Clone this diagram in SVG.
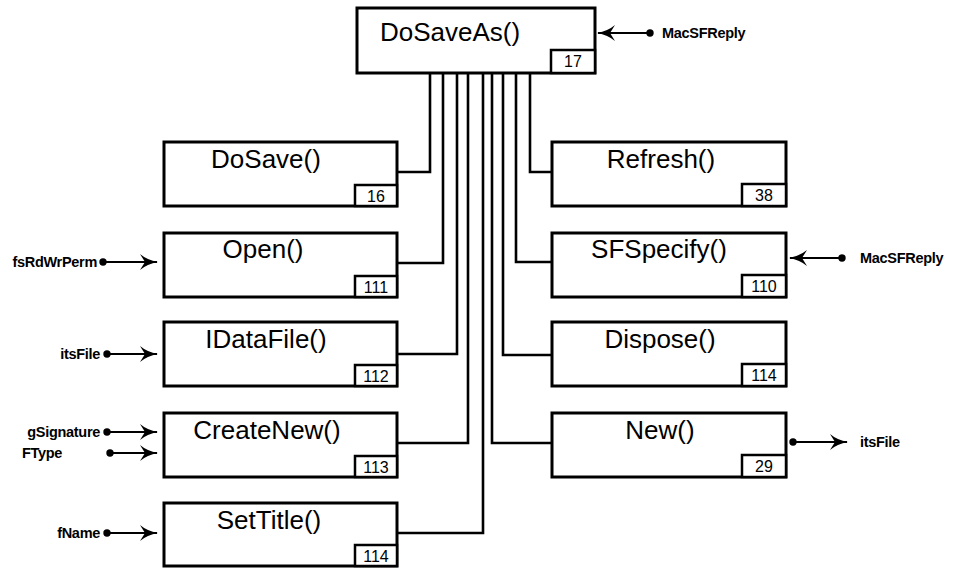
<svg xmlns="http://www.w3.org/2000/svg" width="953" height="569" viewBox="0 0 953 569">
  <defs>
    <marker id="head" viewBox="0 0 18 16" refX="17" refY="8" markerWidth="18" markerHeight="16" markerUnits="userSpaceOnUse" orient="auto">
      <path d="M0,0 Q7,6 18,8 Q7,10 0,16 L5,8 Z" fill="#000"/>
    </marker>
    <marker id="dot" viewBox="0 0 8 8" refX="4" refY="4" markerWidth="8" markerHeight="8" markerUnits="userSpaceOnUse">
      <circle cx="4" cy="4" r="3.7" fill="#000"/>
    </marker>
  </defs>
  <style>
    .box { fill: #fff; stroke: #000; stroke-width: 3; }
    .num { fill: #fff; stroke: #000; stroke-width: 2.5; }
    .title { font-family: "Liberation Sans", Arial, sans-serif; font-size: 26px; text-anchor: middle; fill: #000; }
    .ntext { font-family: "Liberation Sans", Arial, sans-serif; font-size: 16px; text-anchor: middle; fill: #000; }
    .lbl { font-family: "Liberation Sans", Arial, sans-serif; font-size: 14.5px; font-weight: bold; fill: #000; letter-spacing: -0.3px; }
    .wire { fill: none; stroke: #000; stroke-width: 2.6; }
    .arg { fill: none; stroke: #000; stroke-width: 2.2; marker-start: url(#dot); marker-end: url(#head); }
  </style>
  <rect width="953" height="569" fill="#fff"/>

  <!-- wires from callees up to DoSaveAs -->
  <g id="connectors">
    <path class="wire" d="M397,172 H430 V73"/>
    <path class="wire" d="M397,263 H443 V73"/>
    <path class="wire" d="M397,354 H457 V73"/>
    <path class="wire" d="M397,443 H468 V73"/>
    <path class="wire" d="M397,533 H483 V73"/>
    <path class="wire" d="M552,443 H492 V73"/>
    <path class="wire" d="M552,355 H503 V73"/>
    <path class="wire" d="M552,262 H516 V73"/>
    <path class="wire" d="M552,172 H530 V73"/>
  </g>

  <g id="DoSaveAs">
    <rect class="box" x="357" y="8" width="238" height="65"/>
    <rect class="num" x="551" y="50" width="44" height="23"/>
    <text class="title" x="450" y="41" font-size="27">DoSaveAs()</text>
    <text class="ntext" x="573" y="67">17</text>
  </g>

  <g id="DoSave">
    <rect class="box" x="164" y="142" width="233" height="64"/>
    <rect class="num" x="355" y="185" width="42" height="21"/>
    <text class="title" x="266" y="168">DoSave()</text>
    <text class="ntext" x="376" y="202">16</text>
  </g>

  <g id="Open">
    <rect class="box" x="164" y="233" width="233" height="64"/>
    <rect class="num" x="355" y="276" width="42" height="21"/>
    <text class="title" x="263" y="258">Open()</text>
    <text class="ntext" x="376" y="293">111</text>
  </g>

  <g id="IDataFile">
    <rect class="box" x="164" y="322" width="233" height="64"/>
    <rect class="num" x="355" y="365" width="42" height="21"/>
    <text class="title" x="266" y="348">IDataFile()</text>
    <text class="ntext" x="376" y="382">112</text>
  </g>

  <g id="CreateNew">
    <rect class="box" x="164" y="413" width="233" height="64"/>
    <rect class="num" x="355" y="456" width="42" height="21"/>
    <text class="title" x="267" y="439">CreateNew()</text>
    <text class="ntext" x="376" y="473">113</text>
  </g>

  <g id="SetTitle">
    <rect class="box" x="164" y="503" width="233" height="63"/>
    <rect class="num" x="355" y="545" width="42" height="21"/>
    <text class="title" x="269" y="529">SetTitle()</text>
    <text class="ntext" x="376" y="562">114</text>
  </g>

  <g id="Refresh">
    <rect class="box" x="552" y="142" width="234" height="64"/>
    <rect class="num" x="742" y="184" width="44" height="22"/>
    <text class="title" x="661" y="168">Refresh()</text>
    <text class="ntext" x="764" y="201">38</text>
  </g>

  <g id="SFSpecify">
    <rect class="box" x="552" y="233" width="234" height="64"/>
    <rect class="num" x="742" y="275" width="44" height="22"/>
    <text class="title" x="659" y="258">SFSpecify()</text>
    <text class="ntext" x="764" y="292">110</text>
  </g>

  <g id="Dispose">
    <rect class="box" x="552" y="322" width="234" height="64"/>
    <rect class="num" x="742" y="364" width="44" height="22"/>
    <text class="title" x="660" y="348">Dispose()</text>
    <text class="ntext" x="764" y="381">114</text>
  </g>

  <g id="New">
    <rect class="box" x="552" y="413" width="234" height="64"/>
    <rect class="num" x="742" y="455" width="44" height="22"/>
    <text class="title" x="660" y="439">New()</text>
    <text class="ntext" x="764" y="472">29</text>
  </g>

  <!-- parameter arrows -->
  <g id="params">
    <path class="arg" d="M650,33 H598"/>
    <text class="lbl" x="662" y="38">MacSFReply</text>

    <path class="arg" d="M103,262 H157"/>
    <text class="lbl" x="97" y="267" text-anchor="end">fsRdWrPerm</text>

    <path class="arg" d="M107,354 H157"/>
    <text class="lbl" x="100" y="359" text-anchor="end">itsFile</text>

    <path class="arg" d="M107,432 H157"/>
    <text class="lbl" x="100" y="437" text-anchor="end">gSignature</text>

    <path class="arg" d="M110,453 H157"/>
    <text class="lbl" x="22" y="458">FType</text>

    <path class="arg" d="M107,533 H157"/>
    <text class="lbl" x="100" y="538" text-anchor="end">fName</text>

    <path class="arg" d="M842,258 H790"/>
    <text class="lbl" x="860" y="263">MacSFReply</text>

    <path class="arg" d="M793,442 H847"/>
    <text class="lbl" x="860" y="447">itsFile</text>
  </g>
</svg>
